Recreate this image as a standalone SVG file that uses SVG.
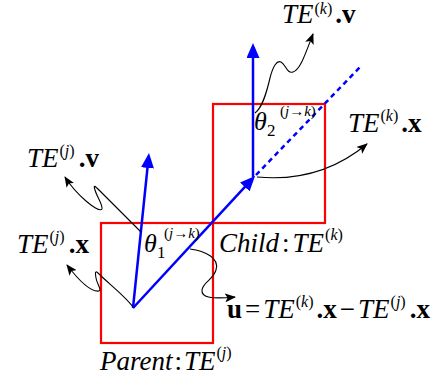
<svg xmlns="http://www.w3.org/2000/svg" width="441" height="380" viewBox="0 0 441 380">
<style>
.t{font-family:"Liberation Serif","Times New Roman",serif;font-size:27px;fill:#000}
.i{font-style:italic}
.b{font-weight:bold}
.s{font-size:16px}
.th{font-family:"Liberation Serif","Times New Roman",serif;font-size:26px;font-style:italic;fill:#000}
.sub{font-family:"Liberation Serif","Times New Roman",serif;font-size:17px;fill:#000}
.sup{font-family:"Liberation Serif","Times New Roman",serif;font-size:15px;fill:#000}
.box{fill:none;stroke:#ff0000;stroke-width:2.2}
.vec{fill:none;stroke:#0000ff;stroke-width:2.5}
.con{fill:none;stroke:#000;stroke-width:1.1}
</style>
<defs>
<marker id="ab" markerUnits="userSpaceOnUse" markerWidth="16" markerHeight="13" refX="11" refY="6.5" orient="auto" viewBox="0 0 16 13">
<path d="M0,0 L15,6.5 L0,13 Z" fill="#0000ff"/>
</marker>
<marker id="ak" markerUnits="userSpaceOnUse" markerWidth="12" markerHeight="9" refX="10" refY="4.5" orient="auto" viewBox="0 0 12 9">
<path d="M0,0 L11,4.5 L0,9 L2.5,4.5 Z" fill="#000"/>
</marker>
</defs>

<g id="parent">
<rect class="box" x="101" y="223" width="112" height="120"/>
<text class="t" x="100" y="370"><tspan class="i">Parent</tspan><tspan dx="2">:</tspan><tspan class="i" dx="2">TE</tspan><tspan class="s" dy="-12" dx="1">(</tspan><tspan class="s i">j</tspan><tspan class="s">)</tspan></text>
</g>

<g id="child">
<rect class="box" x="213" y="104" width="112" height="119"/>
<text class="t" x="219" y="252"><tspan class="i">Child</tspan><tspan dx="3">:</tspan><tspan class="i" dx="3">TE</tspan><tspan class="s" dy="-12" dx="1">(</tspan><tspan class="s i">k</tspan><tspan class="s">)</tspan></text>
</g>

<g id="vectors">
<line class="vec" x1="133" y1="308" x2="148.6" y2="157" marker-end="url(#ab)"/>
<line class="vec" x1="133" y1="308" x2="252.3" y2="178.9" marker-end="url(#ab)"/>
<line class="vec" x1="253" y1="177" x2="253" y2="47" marker-end="url(#ab)"/>
<line class="vec" x1="256" y1="175" x2="362" y2="65" stroke-dasharray="5,4"/>
</g>

<g id="theta1">
<text class="th" x="144" y="252">θ</text>
<text class="sub" x="157" y="258">1</text>
<text class="sup" x="164" y="238">(<tspan class="i">j</tspan>→<tspan class="i">k</tspan>)</text>
</g>

<g id="theta2">
<text class="th" x="254" y="130">θ</text>
<text class="sub" x="267" y="136">2</text>
<text class="sup" x="280" y="116">(<tspan class="i">j</tspan>→<tspan class="i">k</tspan>)</text>
</g>

<g id="label-tek-v">
<text class="t" x="282" y="23"><tspan class="i">TE</tspan><tspan class="s" dy="-9" dx="1">(</tspan><tspan class="s i">k</tspan><tspan class="s">)</tspan><tspan class="b" dy="9" dx="3">.v</tspan></text>
</g>

<g id="label-tek-x">
<text class="t" x="348" y="132"><tspan class="i">TE</tspan><tspan class="s" dy="-11" dx="1">(</tspan><tspan class="s i">k</tspan><tspan class="s">)</tspan><tspan class="b" dy="11" dx="3">.x</tspan></text>
</g>

<g id="label-tej-v">
<text class="t" x="27" y="167"><tspan class="i">TE</tspan><tspan class="s" dy="-11" dx="1">(</tspan><tspan class="s i">j</tspan><tspan class="s">)</tspan><tspan class="b" dy="11" dx="4">.v</tspan></text>
</g>

<g id="label-tej-x">
<text class="t" x="17" y="253"><tspan class="i">TE</tspan><tspan class="s" dy="-11" dx="1">(</tspan><tspan class="s i">j</tspan><tspan class="s">)</tspan><tspan class="b" dy="11" dx="4">.x</tspan></text>
</g>

<g id="label-u">
<text class="t" x="227" y="318"><tspan class="b">u</tspan><tspan dx="3">=</tspan><tspan class="i" dx="3">TE</tspan><tspan class="s" dy="-11" dx="1">(</tspan><tspan class="s i">k</tspan><tspan class="s">)</tspan><tspan class="b" dy="11" dx="3">.x</tspan><tspan dx="3">−</tspan><tspan class="i" dx="3">TE</tspan><tspan class="s" dy="-11" dx="1">(</tspan><tspan class="s i">j</tspan><tspan class="s">)</tspan><tspan class="b" dy="11" dx="4">.x</tspan></text>
</g>

<g id="connectors">
<path class="con" d="M255,113 C262,108 266,95 270,78 C273,66 277,60 281,62 C286,65 287,74 293,72 C300,70 305,55 313,34" marker-end="url(#ak)"/>
<path class="con" d="M257,177 Q320,183 367,144" marker-end="url(#ak)"/>
<path class="con" d="M141,232 L100,191 C95,186 93,184 95,190 C97,197 103,205 102,209 C100,212 92,206 86,201 C79,195 72,188 65,177" marker-end="url(#ak)"/>
<path class="con" d="M133,307 C125,296 108,283 99,274 C95,270 95,272 96,278 C97,284 102,290 99,291 C92,292 80,282 67,265" marker-end="url(#ak)"/>
<path class="con" d="M190,249 C205,251 220,258 216,270 C213,280 203,282 202,290 C201,298 212,299 235,297" marker-end="url(#ak)"/>
</g>
</svg>
